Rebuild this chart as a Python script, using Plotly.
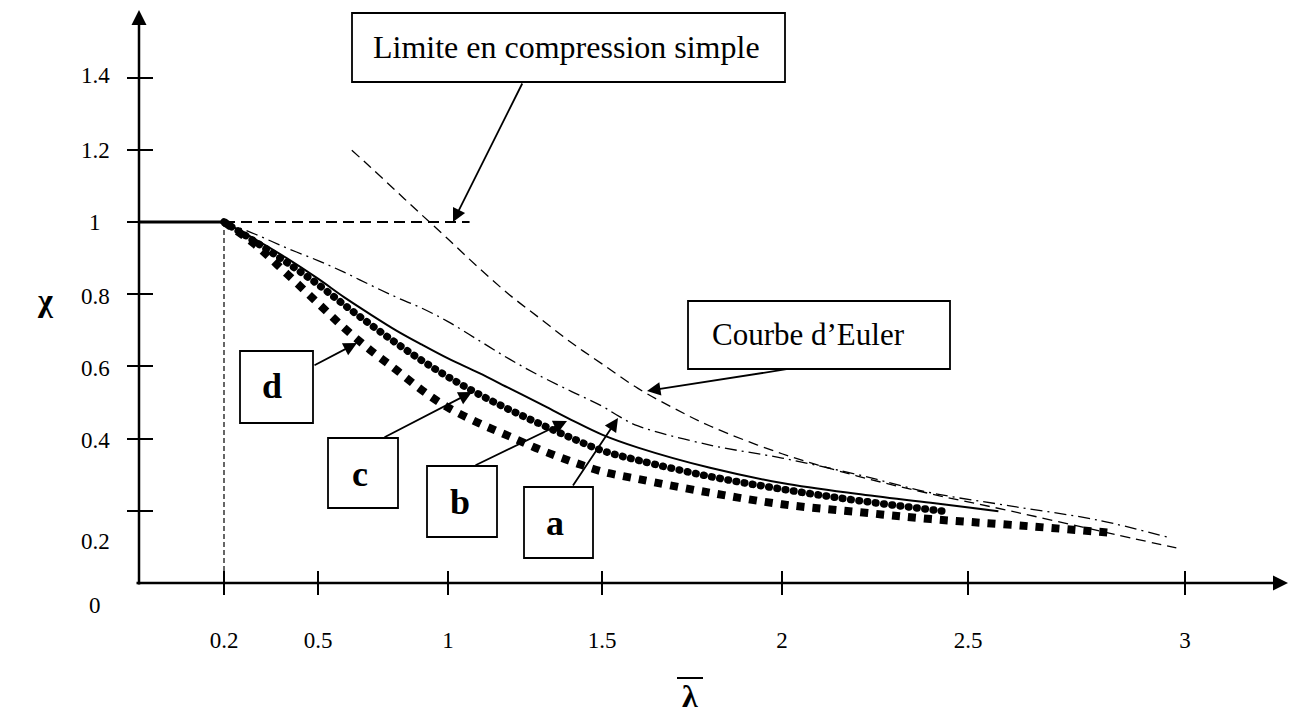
import numpy as np
import plotly.graph_objects as go

W, H = 1295, 718
FONT = "Times New Roman, Liberation Serif, serif"

# ---------------- data ----------------
X_TICK_VALUES = [0.2, 0.5, 1, 1.5, 2, 2.5, 3]
X_TICK_TEXT = ["0.2", "0.5", "1", "1.5", "2", "2.5", "3"]
Y_TICK_VALUES = [0.2, 0.4, 0.6, 0.8, 1.0, 1.2, 1.4]
Y_LABELS = ["1.4", "1.2", "1", "0.8", "0.6", "0.4", "0.2", "0"]

# curve a (dash-dot)
LAMBDA_A = [0.2, 0.3, 0.4, 0.5, 0.6, 0.7, 0.8, 0.9, 1.0, 1.1, 1.2, 1.3, 1.4, 1.5,
            1.55, 1.6, 1.8, 2.0, 2.2, 2.4, 2.6, 2.8, 2.96]
CHI_A = [1.000, 0.966, 0.928, 0.893, 0.861, 0.826, 0.792, 0.761, 0.724, 0.672, 0.620,
         0.573, 0.531, 0.490, 0.460, 0.435, 0.382, 0.346, 0.301, 0.250, 0.213, 0.174, 0.127]
# curve b (solid)
LAMBDA_B = [0.2, 0.3, 0.4, 0.5, 0.6, 0.7, 0.8, 0.9, 1.0, 1.1, 1.2, 1.3, 1.4, 1.5,
            1.6, 1.8, 2.0, 2.2, 2.4, 2.57]
CHI_B = [1.000, 0.952, 0.900, 0.843, 0.792, 0.745, 0.700, 0.660, 0.622, 0.582, 0.539,
         0.496, 0.452, 0.411, 0.375, 0.319, 0.277, 0.247, 0.222, 0.199]
# curve c (round dots)
LAMBDA_C = [0.2, 0.3, 0.4, 0.5, 0.6, 0.7, 0.8, 0.9, 1.0, 1.1, 1.2, 1.3, 1.4, 1.5,
            1.6, 1.8, 2.0, 2.2, 2.45]
CHI_C = [1.000, 0.945, 0.888, 0.827, 0.771, 0.717, 0.665, 0.616, 0.571, 0.523, 0.480,
         0.440, 0.402, 0.367, 0.340, 0.295, 0.260, 0.229, 0.197]
# curve d (square dots)
LAMBDA_D = [0.2, 0.3, 0.4, 0.5, 0.6, 0.7, 0.8, 0.9, 1.0, 1.1, 1.2, 1.3, 1.4, 1.5,
            1.6, 1.8, 2.0, 2.2, 2.4, 2.6, 2.83]
CHI_D = [1.000, 0.937, 0.857, 0.775, 0.707, 0.646, 0.591, 0.534, 0.486, 0.443, 0.406,
         0.369, 0.337, 0.309, 0.288, 0.250, 0.218, 0.197, 0.177, 0.161, 0.139]
# Euler curve (dashed)
LAMBDA_E = [0.63, 0.7, 0.8, 0.9, 1.0, 1.1, 1.2, 1.3, 1.4, 1.5, 1.6, 1.7, 1.8, 2.0,
            2.2, 2.4, 2.6, 2.8, 2.98]
CHI_E = [1.199, 1.153, 1.086, 1.019, 0.953, 0.873, 0.798, 0.732, 0.666, 0.607, 0.539,
         0.484, 0.435, 0.358, 0.297, 0.247, 0.199, 0.145, 0.097]
# plateau, compression limit, vertical reference
LAMBDA_PLATEAU = [0.0, 0.2]
CHI_PLATEAU = [1.0, 1.0]
LAMBDA_LIMIT = [0.2, 1.07]
CHI_LIMIT = [1.0, 1.0]
LAMBDA_VREF = [0.2, 0.2]
CHI_VREF = [1.0, -0.025]

BOX_TEXTS = ["Limite en compression simple", "Courbe d\u2019Euler", "d", "c", "b", "a"]

# ---------------- layout / diagram scale ----------------
# the drawing's horizontal scale is not uniform: lambda -> horizontal position
DIAGRAM_LAMBDA = [0, 0.2, 0.5, 1, 1.5, 2, 2.5, 3]
DIAGRAM_POS = [140, 224, 318, 448, 602, 782, 968, 1185]


def sx(lam):
    return np.interp(np.asarray(lam, dtype=float), DIAGRAM_LAMBDA, DIAGRAM_POS)


CHI0_PY, PX_PER_CHI = 583.0, 361.0
Y_RANGE = [(CHI0_PY - H) / PX_PER_CHI, CHI0_PY / PX_PER_CHI]


def px(x):
    return x / W


def py(y):
    return 1 - y / H


fig = go.Figure()


def add_line(lam, chi, name, width, dash, color="black", shape="linear"):
    fig.add_trace(go.Scatter(
        x=sx(lam), y=chi, mode="lines", name=name,
        line=dict(color=color, width=width, dash=dash, shape=shape),
        hoverinfo="skip", showlegend=False))


add_line(LAMBDA_VREF, CHI_VREF, "vref", 1.2, "5px,3px")
add_line(LAMBDA_LIMIT, CHI_LIMIT, "limit", 2.0, "11px,6px")
add_line(LAMBDA_PLATEAU, CHI_PLATEAU, "plateau", 3.0, "solid")
add_line(LAMBDA_D, CHI_D, "d", 8, "8px,8px", shape="spline")
add_line(LAMBDA_C, CHI_C, "c", 7.5, "0.5px,7.8px", shape="spline")
add_line(LAMBDA_B, CHI_B, "b", 2.0, "solid", shape="spline")
add_line(LAMBDA_A, CHI_A, "a", 1.3, "12px,5px,2px,5px", shape="spline")
add_line(LAMBDA_E, CHI_E, "euler", 1.3, "10px,6px", shape="spline")

annotations = []
shapes = []

# axis lines with arrowheads
annotations.append(dict(xref="paper", yref="paper", x=px(139), y=py(10), ax=0, ay=576,
                        axref="pixel", ayref="pixel", text="", showarrow=True,
                        arrowhead=2, arrowsize=1.2, arrowwidth=2.5, arrowcolor="black",
                        standoff=0, startstandoff=0))
annotations.append(dict(xref="paper", yref="paper", x=px(1288), y=py(583), ax=-1153, ay=0,
                        axref="pixel", ayref="pixel", text="", showarrow=True,
                        arrowhead=2, arrowsize=1.2, arrowwidth=2.5, arrowcolor="black",
                        standoff=0, startstandoff=0))

# y labels
Y_LABEL_PY = [76, 151, 222, 296, 368, 440, 541, 605]
for t, yy in zip(Y_LABELS, Y_LABEL_PY):
    annotations.append(dict(xref="paper", yref="paper", x=px(95), y=py(yy), text=t,
                            showarrow=False, xanchor="center", yanchor="middle",
                            font=dict(family=FONT, size=23, color="black")))

# axis titles
annotations.append(dict(xref="paper", yref="paper", x=px(45), y=py(300), text="<b>\u03c7</b>",
                        showarrow=False, xanchor="center", yanchor="middle",
                        font=dict(family=FONT, size=32, color="black")))
annotations.append(dict(xref="paper", yref="paper", x=px(690), y=py(696), text="<b>\u03bb</b>",
                        showarrow=False, xanchor="center", yanchor="middle",
                        font=dict(family=FONT, size=32, color="black")))
shapes.append(dict(type="line", xref="paper", yref="paper", x0=px(677), x1=px(703),
                   y0=py(678), y1=py(678), line=dict(color="black", width=2)))

# boxes: (left, top, right, bottom, text-center-x, text-center-y, size, bold)
BOX_GEOM = [(352, 13, 785, 82, 566, 47, 32, False),
            (688, 301, 950, 369, 808, 334, 31, False),
            (240, 351, 313, 423, 272, 386, 36, True),
            (328, 438, 398, 508, 360, 474, 36, True),
            (427, 466, 497, 537, 460, 502, 36, True),
            (524, 487, 593, 558, 555, 523, 36, True)]
for txt, (l, t, r, b, cx, cy, fs, bold) in zip(BOX_TEXTS, BOX_GEOM):
    shapes.append(dict(type="rect", xref="paper", yref="paper", x0=px(l), x1=px(r),
                       y0=py(b), y1=py(t), line=dict(color="black", width=1.8),
                       fillcolor="white", layer="above"))
    annotations.append(dict(xref="paper", yref="paper", x=px(cx), y=py(cy),
                            text=f"<b>{txt}</b>" if bold else txt, showarrow=False,
                            xanchor="center", yanchor="middle",
                            font=dict(family=FONT, size=fs, color="black")))

# callout arrows (tail x, tail y, head x, head y)
ARROWS = [(523, 82, 453, 222), (788, 369, 647, 391), (313, 366, 357, 343),
          (383, 438, 472, 392), (474, 466, 567, 421), (572, 487, 618, 418)]
for tx, ty, hx, hy in ARROWS:
    annotations.append(dict(xref="paper", yref="paper", x=px(hx), y=py(hy),
                            ax=tx - hx, ay=ty - hy, axref="pixel", ayref="pixel",
                            text="", showarrow=True, arrowhead=2, arrowsize=1.5,
                            arrowwidth=1.8, arrowcolor="black", standoff=0,
                            startstandoff=0))

fig.update_layout(
    width=W, height=H, margin=dict(l=0, r=0, t=0, b=0),
    paper_bgcolor="white", plot_bgcolor="white", showlegend=False,
    xaxis=dict(range=[0, W], domain=[0, 1], anchor="free", position=py(595),
               showgrid=False, zeroline=False, showline=False,
               tickmode="array", tickvals=list(sx(X_TICK_VALUES)), ticktext=X_TICK_TEXT,
               ticks="inside", ticklen=24, tickwidth=1.5, tickcolor="black",
               ticklabelstandoff=29,
               tickfont=dict(family=FONT, size=23, color="black"), fixedrange=True),
    yaxis=dict(range=Y_RANGE, domain=[0, 1], anchor="free", position=px(153),
               showgrid=False, zeroline=False, showline=False,
               tickmode="array", tickvals=Y_TICK_VALUES, showticklabels=False,
               ticks="outside", ticklen=26, tickwidth=1.5, tickcolor="black",
               fixedrange=True),
    annotations=annotations, shapes=shapes,
)

POST = """
var gd = document.getElementById('{plot_id}');
gd.querySelectorAll('.scatterlayer .trace').forEach(function(g){
  var d = g.__data__;
  if (d && d[0] && d[0].trace && d[0].trace.name === 'c') {
    g.querySelectorAll('path.js-line').forEach(function(p){ p.style.strokeLinecap = 'round'; });
  }
});
"""

fig.write_html("out.html", post_script=POST, config={"displayModeBar": False})
